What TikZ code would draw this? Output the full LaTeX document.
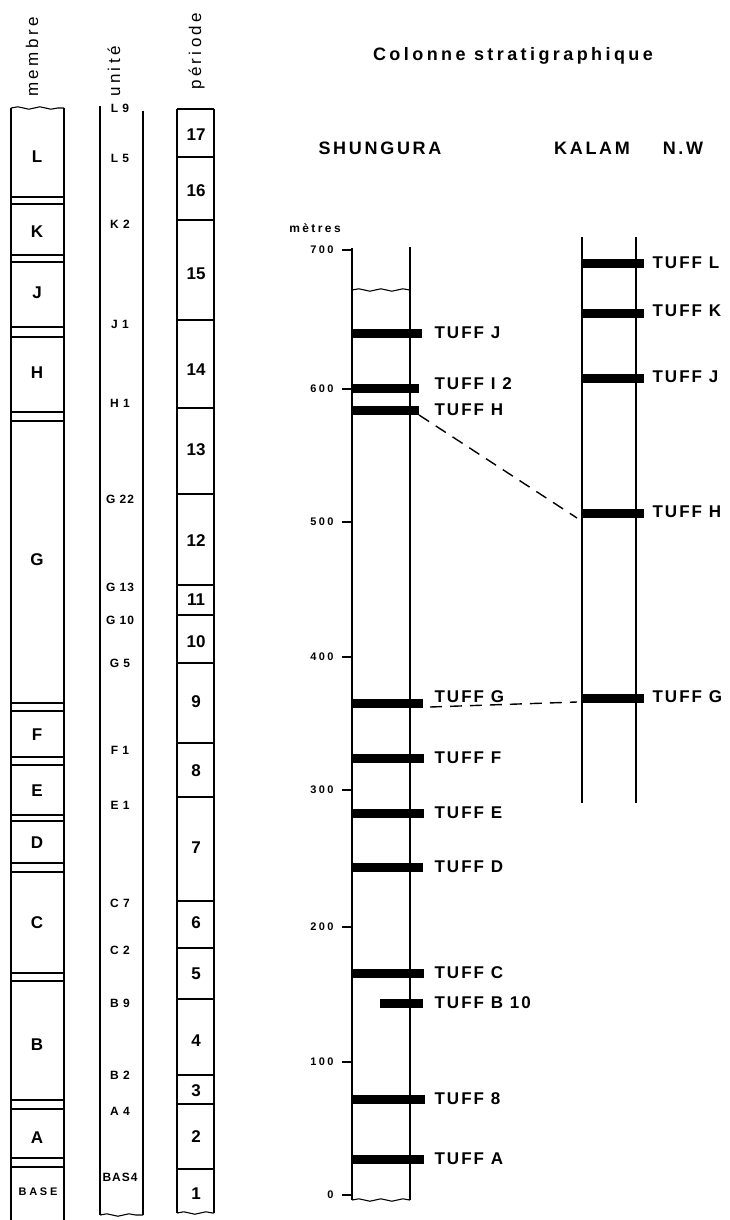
\documentclass[tikz,border=0pt]{standalone}
\usepackage{fontspec}
\setmainfont{Liberation Sans}
\usetikzlibrary{decorations.pathmorphing}
\newcommand{\tracked}[2]{\addfontfeatures{LetterSpace=#1}\fontsize{#2}{#2}\selectfont}

\begin{document}
\begin{tikzpicture}[x=1pt,y=-1pt,
    colLine/.style={line width=1.2pt},
    wavyLine/.style={line width=1.1pt,decorate,decoration={snake,amplitude=1.2pt,segment length=22pt}},
    tuffBar/.style={line width=9pt},
    corrLine/.style={line width=1.4pt,dash pattern=on 12pt off 8pt},
    headLbl/.style={rotate=90,anchor=base west,inner sep=0pt,font=\tracked{20}{17}},
    memLbl/.style={font=\bfseries\fontsize{17}{17}\selectfont},
    uniLbl/.style={font=\bfseries\tracked{8}{12}},
    perLbl/.style={font=\bfseries\fontsize{17}{17}\selectfont},
    tickLbl/.style={anchor=east,font=\bfseries\tracked{22}{11}},
    colTitle/.style={font=\bfseries\tracked{15}{18}},
    tuffLbl/.style={anchor=west,font=\bfseries\tracked{12}{17}},
]
\useasboundingbox (0,0) rectangle (729,1220);

% column headings
\node[headLbl] (hMembre) at (38,97) {membre};
\node[headLbl] (hUnite) at (120,97) {unité};
\node[headLbl] (hPeriode) at (201,90) {période};

% membre
\draw[colLine] (11,108) -- (11,1220);
\draw[colLine] (64,108) -- (64,1220);
\draw[wavyLine] (11,108) -- (64,108);
\foreach \ya/\yb in {197/204,255/262,327/337,412/421,703/711,757/765,815/821,863/872,973/981,1100/1109,1158/1167}{
  \draw[colLine] (11,\ya) -- (64,\ya);
  \draw[colLine] (11,\yb) -- (64,\yb);
}
\foreach \lbl/\y in {L/157,K/232,J/293,H/373,G/560,F/735,E/791,D/843,C/923,B/1045,A/1138}
  \node[memLbl] (mem\lbl) at (37,\y) {\lbl};
\node[font=\bfseries\tracked{25}{11}] (memBase) at (38,1192) {BASE};

% unite
\draw[colLine] (100,106) -- (100,1215);
\draw[colLine] (143,111) -- (143,1215);
\draw[wavyLine] (100,1215) -- (143,1215);
\foreach \lbl/\y [count=\i] in {L 9/108,L 5/158,K 2/224,J 1/324,H 1/403,G 22/499,G 13/587,G 10/620,G 5/663,F 1/750,E 1/805,C 7/903,C 2/950,B 9/1003,B 2/1075,A 4/1111,BAS4/1177}
  \node[uniLbl] (uni\i) at (120,\y) {\lbl};

% periode
\draw[colLine] (177,109) -- (177,1213);
\draw[colLine] (214,109) -- (214,1213);
\draw[wavyLine] (177,1213) -- (214,1213);
\foreach \y in {109,157,220,320,408,494,585,615,663,743,797,901,948,999,1075,1104,1169}
  \draw[colLine] (177,\y) -- (214,\y);
\foreach \lbl/\y in {17/135,16/191,15/274,14/370,13/450,12/541,11/600,10/642,9/702,8/771,7/848,6/923,5/974,4/1041,3/1091,2/1137,1/1194}
  \node[perLbl] (per\lbl) at (196,\y) {\lbl};

% titles
\node[font=\bfseries\tracked{19}{18}] (title) at (513,56) {Colonne stratigraphique};
\node[colTitle] (shTitle) at (380,148) {SHUNGURA};
\node[colTitle] (kaTitle) at (592,148) {KALAM};
\node[colTitle] (nwTitle) at (683,148) {N.W};

% shungura
\node[font=\bfseries\tracked{20}{12}] (metres) at (315,228) {mètres};
\draw[colLine] (352,248) -- (352,1200);
\draw[colLine] (410,247) -- (410,1200);
\draw[wavyLine] (352,290) -- (410,290);
\draw[wavyLine] (352,1200) -- (410,1200);
\foreach \m/\y in {700/250,600/389,500/522,400/657,300/790,200/927,100/1062,0/1195}{
  \draw[colLine] (342,\y) -- (352,\y);
  \node[tickLbl] (tick\m) at (337,\y) {\m};
}
\foreach \nm/\y/\xa/\xb/\yl/\lbl in {J/333/352/422/333/TUFF J,I/388/352/419/384/TUFF I 2,H/410/352/419/410/TUFF H,G/703/352/423/697/TUFF G,F/758/352/424/758/TUFF F,E/813/352/424/813/TUFF E,D/867/352/423/867/TUFF D,C/973/352/424/973/TUFF C,B/1003/380/423/1003/TUFF B 10,Eight/1099/352/425/1099/TUFF 8,A/1159/352/424/1159/TUFF A}{
  \draw[tuffBar] (\xa,\y) -- (\xb,\y) coordinate (sh\nm);
  \node[tuffLbl] (shLbl\nm) at (431,\yl) {\lbl};
}

% kalam
\draw[colLine] (582,237) -- (582,803);
\draw[colLine] (636,237) -- (636,803);
\foreach \nm/\y/\yl in {L/263/263,K/313/311,J/378/377,H/513/512,G/698/697}{
  \draw[tuffBar] (582,\y) coordinate (ka\nm) -- (644,\y);
  \node[tuffLbl] (kaLbl\nm) at (649,\yl) {TUFF \nm};
}

% correlations
\draw[corrLine] ([yshift=-5pt]shH) -- ([xshift=-5pt,yshift=-5pt]kaH);
\draw[corrLine] ([xshift=7pt,yshift=-4pt]shG) -- ([xshift=-5pt,yshift=-4pt]kaG);
\end{tikzpicture}
\end{document}
